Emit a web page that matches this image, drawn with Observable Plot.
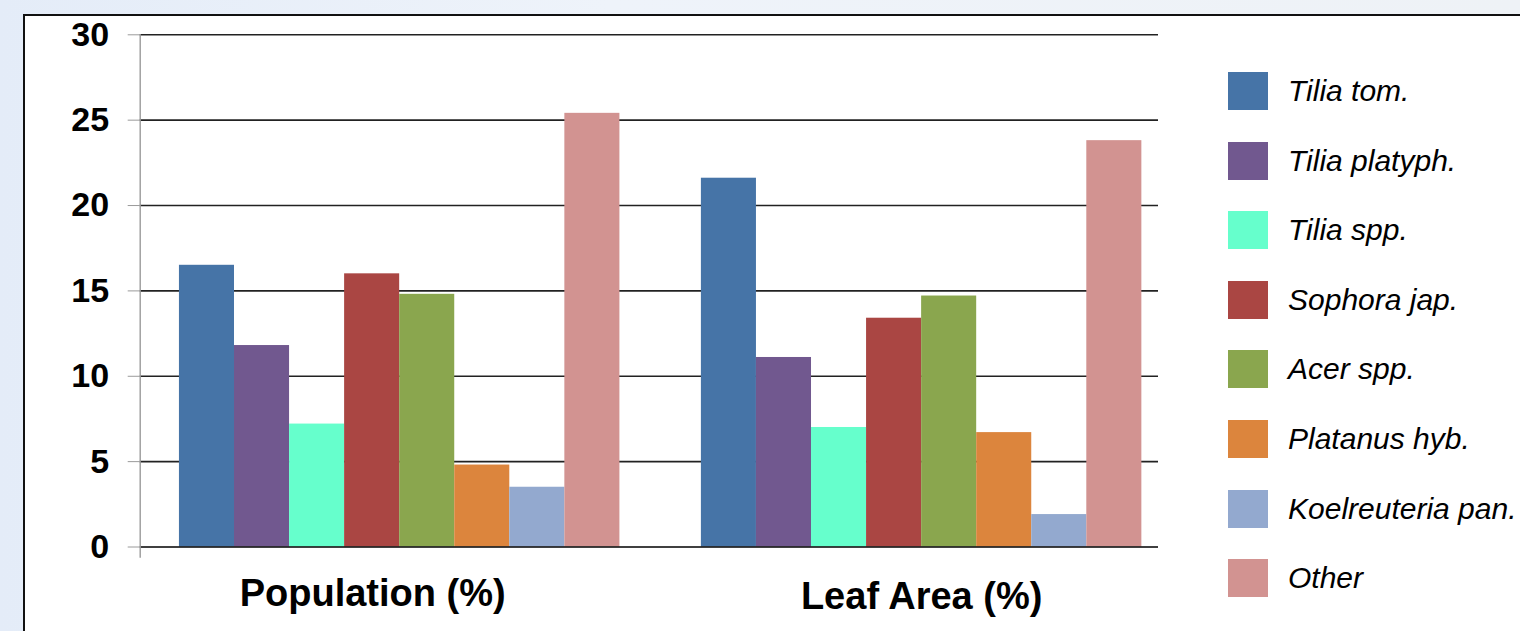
<!DOCTYPE html>
<html>
<head>
<meta charset="utf-8">
<script src="https://cdn.jsdelivr.net/npm/d3@7"></script>
<script src="https://cdn.jsdelivr.net/npm/@observablehq/plot@0.6"></script>
<style>
  html, body { margin: 0; padding: 0; }
  body {
    width: 1520px; height: 631px; position: relative; overflow: hidden;
    background: linear-gradient(90deg, #e4ecf8 0%, #eef3fa 40%, #eef2f6 100%);
    font-family: "Liberation Sans", Arial, sans-serif;
  }
  #panel {
    position: absolute; left: 23px; top: 14px; width: 1600px; height: 700px;
    background: #fff; border: 2px solid #111; box-sizing: border-box;
  }
  .layer { position: absolute; left: 0; top: 0; }
  #legend { position: absolute; left: 0; top: 0; }
  .lg-row { position: absolute; display: flex; align-items: center; }
  .lg-sw { width: 40px; height: 38px; }
  .lg-tx { margin-left: 20px; font-style: italic; font-size: 30px; color: #000; white-space: nowrap; }
</style>
</head>
<body>
<div id="panel"></div>
<div id="grid" class="layer"></div>
<div id="bars" class="layer"></div>
<div id="axes" class="layer"></div>
<div id="legend"></div>
<script>
// ---- data ----
const groups = ["Population (%)", "Leaf Area (%)"];
const species = ["Tilia tom.", "Tilia platyph.", "Tilia spp.", "Sophora jap.", "Acer spp.", "Platanus hyb.", "Koelreuteria pan.", "Other"];
const population = [16.5, 11.8, 7.2, 16.0, 14.8, 4.8, 3.5, 25.4];
const leafArea = [21.6, 11.1, 7.0, 13.4, 14.7, 6.7, 1.9, 23.8];
const colors = ["#4674a7", "#71588f", "#66ffcc", "#aa4643", "#8aa64e", "#dc853d", "#93a9cf", "#d29391"];
const yTicks = [0, 5, 10, 15, 20, 25, 30];
const gridTicks = [5, 10, 15, 20, 25, 30];

const table = [];
species.forEach((s, i) => {
  table.push({group: groups[0], species: s, value: population[i]});
  table.push({group: groups[1], species: s, value: leafArea[i]});
});

const W = 1520, H = 631;
const mL = 139.7, mR = W - 1158, mT = 34.3, mB = H - 546.5;
const font = "'Liberation Sans', Arial, sans-serif";
const common = {
  width: W, height: H, marginLeft: mL, marginRight: mR, marginTop: mT, marginBottom: mB,
  style: {background: "transparent", fontFamily: font, overflow: "visible"},
  y: {domain: [0, 30], axis: null}
};

// layer 1: horizontal gridlines (behind bars)
const gridPlot = Plot.plot({
  ...common,
  marks: [
    Plot.ruleY(gridTicks, {stroke: "#222", strokeWidth: 1.6})
  ]
});
document.getElementById("grid").appendChild(gridPlot);

// layer 2: grouped bars + category labels
const barPlot = Plot.plot({
  ...common,
  fx: {domain: groups, range: [138.2, 1182.1], padding: 0, round: false, label: null},
  x: {domain: species, paddingInner: 0, paddingOuter: 0.74, round: false, axis: null},
  color: {domain: species, range: colors},
  marks: [
    Plot.barY(table, {fx: "group", x: "species", y: "value", fill: "species", inset: 0}),
    Plot.axisFx({ticks: [groups[0]], anchor: "bottom", tickSize: 0, tickPadding: 32, dx: -27, fontSize: 38, fontWeight: "bold", label: null, color: "#000"}),
    Plot.axisFx({ticks: [groups[1]], anchor: "bottom", tickSize: 0, tickPadding: 35, dx: 0, fontSize: 38, fontWeight: "bold", label: null, color: "#000"})
  ]
});
document.getElementById("bars").appendChild(barPlot);

// layer 3: y axis, baseline and axis line
const axisPlot = Plot.plot({
  ...common,
  marks: [
    Plot.ruleY([0], {stroke: "#000", strokeWidth: 1.6}),
    Plot.frame({anchor: "left", stroke: "#9a9a9a", strokeWidth: 1.4, insetBottom: -10}),
    Plot.axisY({ticks: yTicks, tickSize: 12, tickPadding: 19, fontSize: 34, fontWeight: "bold", stroke: "#9a9a9a", color: "#000", label: null})
  ]
});
document.getElementById("axes").appendChild(axisPlot);

// legend built from the same arrays
const lg = d3.select("#legend");
species.forEach((s, i) => {
  const row = lg.append("div").attr("class", "lg-row")
    .style("left", "1228px").style("top", (72 + i * 69.6) + "px").style("height", "38px");
  row.append("div").attr("class", "lg-sw").style("background", colors[i]);
  row.append("div").attr("class", "lg-tx").text(s);
});
</script>
</body>
</html>
